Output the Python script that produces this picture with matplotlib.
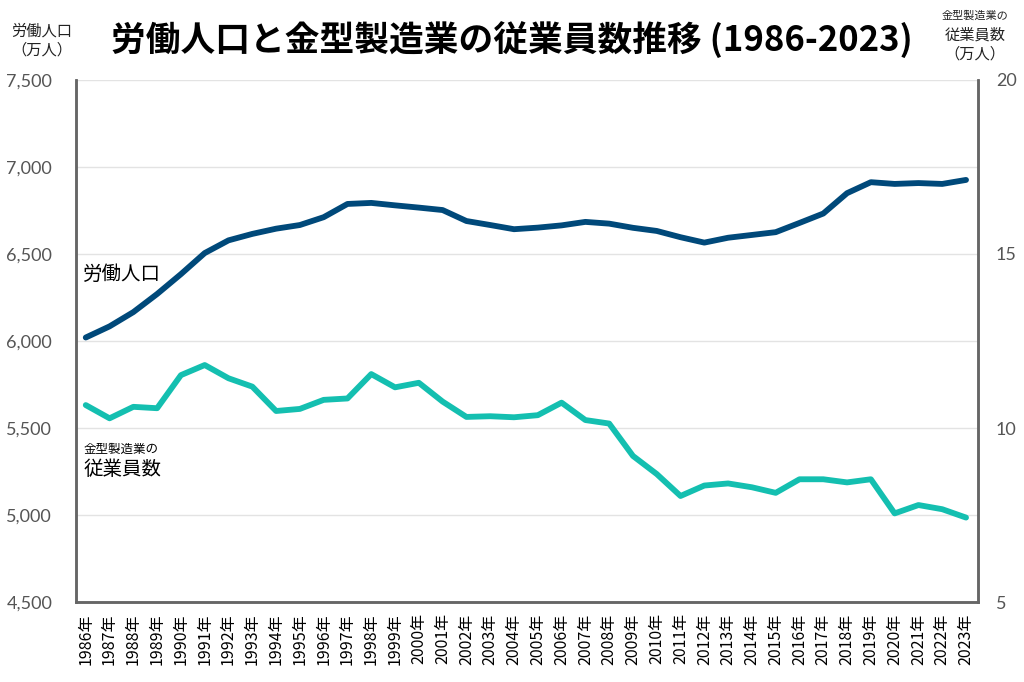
import matplotlib
matplotlib.use("Agg")
import matplotlib.pyplot as plt
from matplotlib.ticker import FuncFormatter, MultipleLocator

plt.rcParams['font.family'] = ['Noto Sans CJK JP', 'DejaVu Sans']

# データ（万人）
years = list(range(1986, 2024))
labor_force = [6020, 6084, 6166, 6270, 6384, 6505, 6578, 6615, 6645, 6666,
               6711, 6787, 6793, 6779, 6766, 6752, 6689, 6666, 6642, 6651,
               6664, 6684, 6674, 6650, 6632, 6596, 6565, 6593, 6609, 6625,
               6678, 6732, 6849, 6912, 6902, 6907, 6902, 6925]
mold_workers = [10.66, 10.28, 10.61, 10.57, 11.52, 11.81, 11.43, 11.19, 10.49, 10.55,
                10.81, 10.85, 11.55, 11.17, 11.30, 10.76, 10.32, 10.34, 10.31, 10.37,
                10.73, 10.23, 10.13, 9.20, 8.68, 8.05, 8.35, 8.41, 8.30, 8.14,
                8.53, 8.53, 8.44, 8.53, 7.55, 7.79, 7.67, 7.43]
year_labels = [f"{y}年" for y in years]

blue = '#00497A'
teal = '#14BFB0'
spine_c = '#666666'
tick_c = '#555555'

fig = plt.figure(figsize=(10.24, 6.82), dpi=100)
ax = fig.add_axes([0.074, 0.117, 0.881, 0.766])
ax2 = ax.twinx()

x = list(range(len(years)))
ax.plot(x, labor_force, color=blue, linewidth=4.2, solid_capstyle='round', zorder=3)
ax2.plot(x, mold_workers, color=teal, linewidth=4.2, solid_capstyle='round', zorder=3)

ax.set_ylim(4500, 7500)
ax2.set_ylim(5, 20)
ax.set_xlim(-0.42, 37.5)
ax.yaxis.set_major_locator(MultipleLocator(500))
ax2.yaxis.set_major_locator(MultipleLocator(5))
ax.yaxis.set_major_formatter(FuncFormatter(lambda v, p: f"{int(v):,}"))

ax.grid(axis='y', color='#e3e3e3', linewidth=1)
ax.set_axisbelow(True)

ax.set_xticks(x)
ax.set_xticklabels(year_labels, rotation=90, fontsize=11.5, color='black')

for a in (ax, ax2):
    a.spines['top'].set_visible(False)
    for s in ('left', 'right', 'bottom'):
        a.spines[s].set_color(spine_c)
        a.spines[s].set_linewidth(1.8)
    a.tick_params(axis='y', length=0, labelsize=13, labelcolor=tick_c)
    for lbl in a.get_yticklabels():
        lbl.set_family(['Lato', 'DejaVu Sans'])
ax.tick_params(axis='y', pad=17)
ax2.tick_params(axis='y', pad=13)
ax.tick_params(axis='x', length=0, pad=8)

# ラベル
ax.text(-0.1, 6320, "労働人口", fontsize=14, color='black', va='bottom', ha='left')
ax2.text(-0.1, 9.2, "金型製造業の", fontsize=9, color='black', va='bottom', ha='left')
ax2.text(-0.1, 8.5, "従業員数", fontsize=14, color='black', va='bottom', ha='left')

fig.text(0.5, 0.94, "労働人口と金型製造業の従業員数推移 (1986-2023)",
         fontsize=25, fontweight='bold', ha='center', va='center')
fig.text(0.041, 0.94, "労働人口\n（万人）", fontsize=11, ha='center', va='center',
         linespacing=1.15, color='#222222')
fig.text(0.952, 0.977, "金型製造業の", fontsize=8, ha='center', va='center', color='#222222')
fig.text(0.952, 0.934, "従業員数\n（万人）", fontsize=11, ha='center', va='center',
         linespacing=1.15, color='#222222')

fig.savefig("out.png", dpi=100)
